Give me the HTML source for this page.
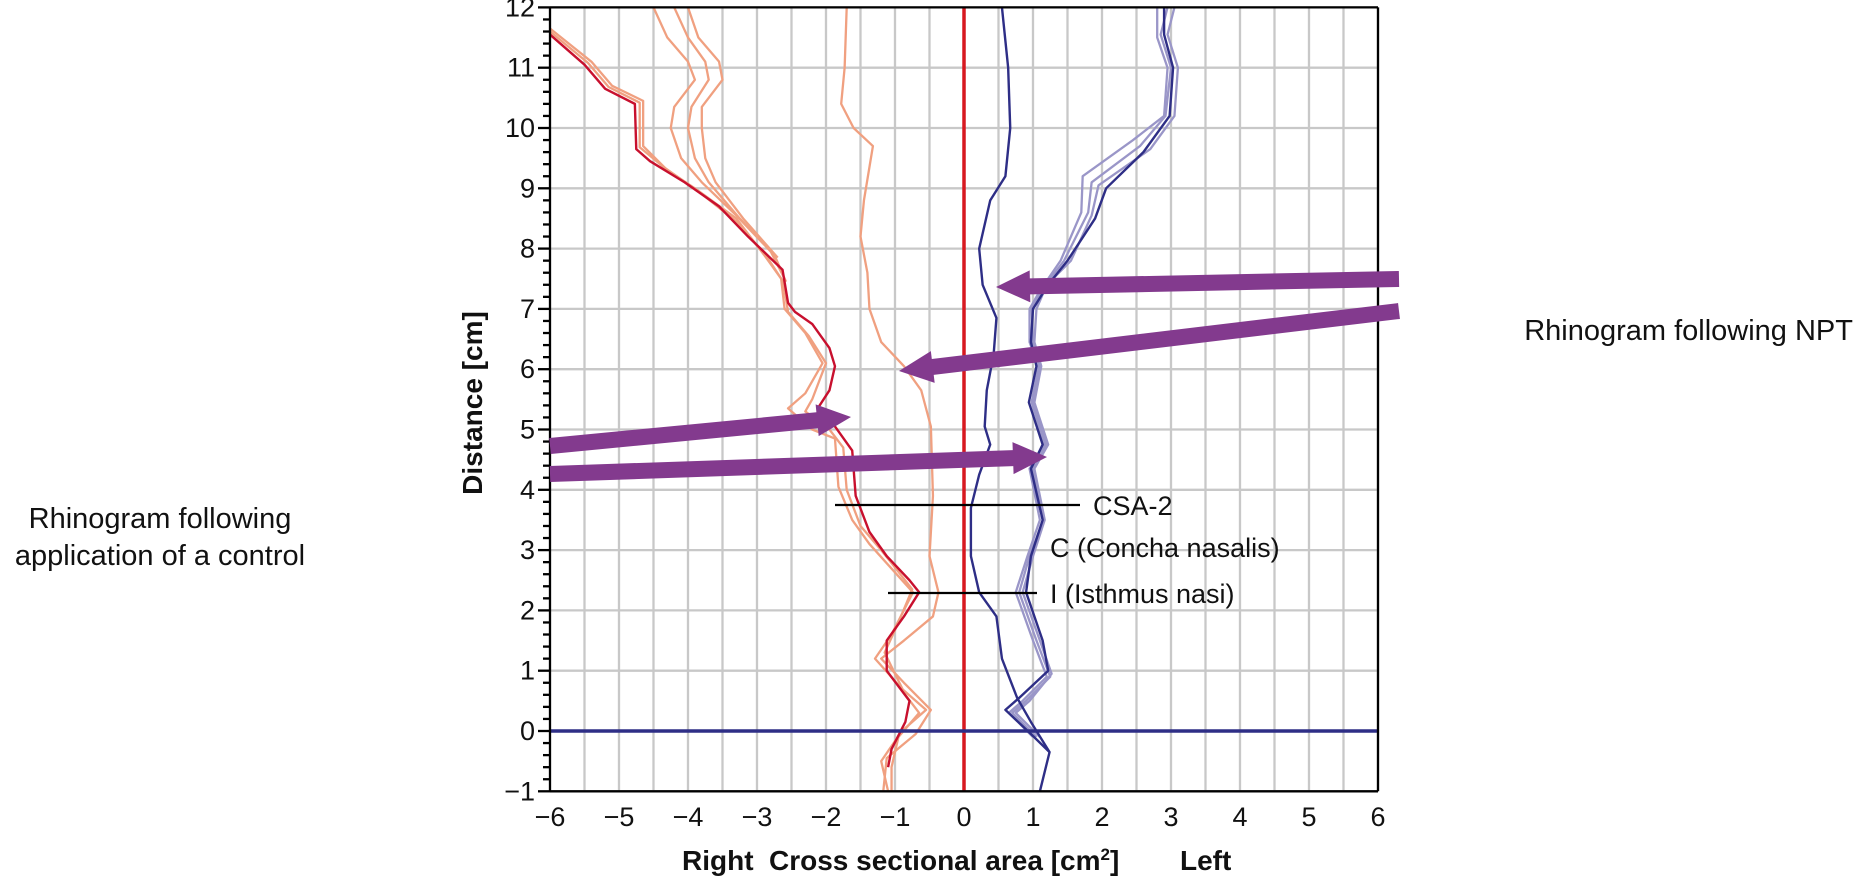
<!DOCTYPE html>
<html><head><meta charset="utf-8"><style>
html,body{margin:0;padding:0;background:#fff;}
body{width:1858px;height:878px;overflow:hidden;font-family:"Liberation Sans",sans-serif;}
</style></head><body>
<svg id="chart" width="1858" height="878" xmlns="http://www.w3.org/2000/svg" font-family="Liberation Sans, sans-serif"></svg>
<script>
const xTicks=[-6,-5,-4,-3,-2,-1,0,1,2,3,4,5,6];
const yTicks=[-1,0,1,2,3,4,5,6,7,8,9,10,11,12];
const dRed=[[-6,11.55],[-5.5,11.05],[-5.2,10.65],[-4.77,10.4],[-4.75,9.65],[-4.55,9.45],[-4.05,9.1],[-3.55,8.7],[-3.13,8.2],[-2.63,7.65],[-2.55,7.1],[-2.45,6.95],[-2.2,6.75],[-1.95,6.35],[-1.87,6.05],[-1.95,5.65],[-2.12,5.35],[-1.87,5.05],[-1.62,4.65],[-1.57,3.9],[-1.37,3.3],[-1.12,2.9],[-0.79,2.5],[-0.65,2.3],[-0.87,1.9],[-1.12,1.5],[-1.12,1.0],[-0.79,0.5],[-0.85,0.15],[-1.05,-0.3],[-1.1,-0.6]];
const salmonA=[[-6,11.65],[-5.4,11.1],[-5.1,10.7],[-4.65,10.45],[-4.65,9.7],[-4.3,9.3],[-3.9,9.0],[-3.3,8.5],[-2.9,7.9],[-2.65,7.5],[-2.6,7.0],[-2.3,6.6],[-2.05,6.1],[-2.3,5.6],[-2.55,5.35],[-2.2,5.0],[-1.87,4.85],[-1.82,4.05],[-1.62,3.5],[-1.37,3.1],[-0.74,2.3],[-1.05,1.6],[-1.29,1.2],[-0.9,0.7],[-0.55,0.35],[-0.9,0],[-1.2,-0.5],[-1.1,-1]];
const salmonB=[[-6,11.6],[-5.45,11.08],[-5.15,10.68],[-4.7,10.42],[-4.7,9.68],[-4.35,9.35],[-3.85,8.95],[-3.3,8.45],[-2.85,7.85],[-2.62,7.45],[-2.55,6.95],[-2.25,6.55],[-2.0,6.1],[-2.2,5.5],[-2.3,5.3],[-1.95,5.0],[-1.75,4.7],[-1.7,4.0],[-1.5,3.4],[-1.2,3.0],[-0.75,2.35],[-0.95,1.8],[-1.15,1.3],[-0.85,0.6],[-0.65,0.3],[-0.95,-0.1],[-1.05,-0.6],[-1.05,-1]];
const salmonC=[[-4.5,12],[-4.3,11.5],[-4.0,11.1],[-3.9,10.8],[-4.2,10.35],[-4.25,10.0],[-4.1,9.5],[-3.8,9.1],[-3.3,8.55],[-2.8,7.95],[-2.6,7.5]];
const salmonD=[[-4.2,12],[-4.0,11.5],[-3.75,11.1],[-3.7,10.8],[-3.95,10.35],[-4.0,10.0],[-3.9,9.5],[-3.7,9.1],[-3.25,8.5],[-2.75,7.9],[-2.58,7.45]];
const salmonE=[[-4.0,12],[-3.85,11.5],[-3.55,11.1],[-3.5,10.8],[-3.8,10.35],[-3.8,10.0],[-3.75,9.5],[-3.6,9.1],[-3.2,8.5],[-2.7,7.85]];
const salmonMid=[[-1.7,12],[-1.73,11],[-1.78,10.4],[-1.6,10],[-1.32,9.7],[-1.45,8.8],[-1.5,8.2],[-1.4,7.6],[-1.37,7.0],[-1.2,6.45],[-0.87,6.05],[-0.62,5.65],[-0.48,5.05],[-0.45,3.9],[-0.5,2.9],[-0.37,2.3],[-0.45,1.9],[-0.87,1.5],[-1.2,1.2],[-0.87,0.8],[-0.48,0.35],[-0.7,-0.05],[-1.12,-0.45],[-1.17,-1]];
const navyL=[[0.55,12],[0.64,11],[0.67,10],[0.6,9.2],[0.38,8.8],[0.22,8.0],[0.27,7.4],[0.47,6.85],[0.43,6.25],[0.33,5.65],[0.3,5.05],[0.38,4.75],[0.22,4.25],[0.1,3.7],[0.1,2.9],[0.22,2.3],[0.47,1.9],[0.55,1.2],[0.77,0.55],[0.97,0.15],[1.24,-0.35],[1.1,-1]];
const navyR=[[2.9,12],[2.9,11.55],[3.03,11],[2.98,10.2],[2.6,9.6],[2.06,9.0],[1.9,8.5],[1.5,7.8],[1.22,7.4],[1.0,7.0],[0.97,6.45],[1.05,6.05],[0.94,5.45],[1.14,4.75],[0.97,4.35],[1.14,3.5],[0.97,2.9],[0.9,2.3],[1.14,1.5],[1.22,1.0],[0.8,0.55],[0.6,0.35],[0.97,-0.05],[1.24,-0.35]];
const lavA=[[2.8,12],[2.8,11.5],[2.95,11],[2.9,10.2],[2.45,9.8],[1.72,9.2],[1.7,8.6],[1.4,7.8],[1.1,7.3],[0.95,7.0],[0.95,6.45],[1.08,6.05],[0.98,5.45],[1.17,4.75],[0.95,4.35],[1.1,3.5],[0.92,2.9],[0.75,2.3],[1.0,1.5],[1.2,0.9],[0.85,0.5],[0.65,0.3],[1.0,-0.1]];
const lavB=[[2.95,12],[2.85,11.55],[3.0,11],[2.92,10.2],[2.55,9.7],[1.85,9.1],[1.8,8.6],[1.45,7.8],[1.15,7.35],[0.98,7.0],[1.0,6.45],[1.1,6.05],[1.0,5.45],[1.2,4.75],[1.0,4.35],[1.15,3.5],[0.95,2.9],[0.8,2.3],[1.05,1.5],[1.25,0.9],[0.9,0.5],[0.7,0.3],[1.05,-0.1]];
const lavC=[[3.05,12],[2.95,11.55],[3.1,11],[3.05,10.2],[2.7,9.65],[1.95,9.05],[1.85,8.55],[1.55,7.8],[1.2,7.4],[1.05,7.0],[1.02,6.45],[1.12,6.05],[1.02,5.45],[1.22,4.75],[1.02,4.35],[1.17,3.5],[1.0,2.9],[0.85,2.3],[1.1,1.5],[1.27,0.95],[0.95,0.5],[0.75,0.3],[1.1,-0.1]];

const svg=document.getElementById('chart');
const NS='http://www.w3.org/2000/svg';
const sx=v=>964+v*69;
const sy=d=>731-d*60.3;
const X0=sx(-6),X1=sx(6);
function mk(tag,attrs,parent){const e=document.createElementNS(NS,tag);for(const k in attrs)e.setAttribute(k,attrs[k]);(parent||svg).appendChild(e);return e;}
const grid=mk('g',{});


for(let v=-5.5;v<=6.001;v+=0.5){mk('line',{x1:sx(v),x2:sx(v),y1:sy(12),y2:sy(-1),stroke:'#c8c8c8','stroke-width':2.3},grid);}
for(let d=-1;d<=12;d++){mk('line',{x1:X0,x2:X1,y1:sy(d),y2:sy(d),stroke:'#c8c8c8','stroke-width':2.3},grid);}
const line=(pts,color,w,name)=>{const p=mk('polyline',{points:pts.map(q=>sx(q[0])+','+sy(q[1])).join(' '),fill:'none',stroke:color,'stroke-width':w,'stroke-linejoin':'round'});return p;};
line(salmonA,'#f0a080',2.3,'control-right-trace-a');
line(salmonB,'#f0a080',2.3,'control-right-trace-b');
line(salmonC,'#f0a080',2.3,'control-right-trace-c');
line(salmonD,'#f0a080',2.3,'control-right-trace-d');
line(salmonE,'#f0a080',2.3,'control-right-trace-e');
line(salmonMid,'#f0a080',2.3,'npt-right-trace');
line(dRed,'#c8102e',2.4,'control-right-mean');
line(lavA,'#9a96c8',2.3,'npt-left-trace-a');
line(lavB,'#9a96c8',2.3,'npt-left-trace-b');
line(lavC,'#9a96c8',2.3,'npt-left-trace-c');
line(navyR,'#2e2e86',2.4,'control-left-mean');
line(navyL,'#2e2e86',2.4,'npt-left-mean');
let z=mk('line',{x1:sx(0),x2:sx(0),y1:sy(12),y2:sy(-1),stroke:'#d71920','stroke-width':3.5});

z=mk('line',{x1:X0,x2:X1,y1:sy(0),y2:sy(0),stroke:'#2e2e86','stroke-width':3.5});

// axes
mk('line',{x1:X0,x2:X0,y1:sy(12),y2:sy(-1),stroke:'#000','stroke-width':2.3});
mk('line',{x1:X0,x2:X1,y1:sy(-1),y2:sy(-1),stroke:'#000','stroke-width':2.3});
mk('line',{x1:X0,x2:X1,y1:sy(12),y2:sy(12),stroke:'#000','stroke-width':2.3});
mk('line',{x1:X1,x2:X1,y1:sy(12),y2:sy(-1),stroke:'#000','stroke-width':2.3});
for(let i=0;i<=65;i++){const d=-1+i*0.2;const maj=i%5===0;mk('line',{x1:X0-(maj?12:7),x2:X0,y1:sy(d),y2:sy(d),stroke:'#000','stroke-width':2.3});}
yTicks.forEach(d=>{const t=mk('text',{x:X0-15,y:sy(d)+9,'text-anchor':'end','font-size':27,fill:'#111'});t.textContent=(d<0?'\u2212'+(-d):d);});
xTicks.forEach(v=>{const t=mk('text',{x:sx(v),y:826,'text-anchor':'middle','font-size':27,fill:'#111'});t.textContent=(v<0?'\u2212'+(-v):v);});
// annotation lines
mk('line',{x1:835,x2:1080,y1:505,y2:505,stroke:'#000','stroke-width':2.3});
mk('line',{x1:888,x2:1037,y1:593,y2:593,stroke:'#000','stroke-width':2.3});
// arrows
function arrow(x1,y1,x2,y2,name){const a=Math.atan2(y2-y1,x2-x1),L=Math.hypot(x2-x1,y2-y1),h=34,hw=16,sw=8;
const c=Math.cos(a),s=Math.sin(a);const P=(u,v)=>(x1+u*c-v*s)+','+(y1+u*s+v*c);
const p=mk('polygon',{points:[P(0,-sw),P(L-h,-sw),P(L-h,-hw),P(L,0),P(L-h,hw),P(L-h,sw),P(0,sw)].join(' '),fill:'#833a8e'});
}
arrow(1399,279,996,287,'arrow-npt-left');
arrow(1399,311,899,371,'arrow-npt-right');
arrow(550,446,851,417,'arrow-control-right');
arrow(550,474,1047,457,'arrow-control-left');
function txt(x,y,s,o,name){const t=mk('text',Object.assign({x:x,y:y,'font-size':27,fill:'#111'},o||{}));t.textContent=s;return t;}
txt(1093,515,'CSA-2',{},'csa2-label');
txt(1050,557,'C (Concha nasalis)',{},'concha-label');
txt(1050,603,'I (Isthmus nasi)',{},'isthmus-label');
txt(1853,340,'Rhinogram following NPT',{'text-anchor':'end','font-size':29},'npt-annotation');
txt(160,528,'Rhinogram following',{'text-anchor':'middle','font-size':29},'control-annotation-line1');
txt(160,565,'application of a control',{'text-anchor':'middle','font-size':29},'control-annotation-line2');
const xt=mk('text',{x:682,y:870,'font-size':28,'font-weight':'bold',fill:'#111'});

xt.innerHTML='Right<tspan x="769">Cross sectional area [cm</tspan><tspan font-size="17" dy="-10">2</tspan><tspan dy="10">]</tspan><tspan x="1180">Left</tspan>';
txt(0,0,'Distance [cm]',{'font-weight':'bold','font-size':28,'text-anchor':'middle',transform:'translate(482,403) rotate(-90)'},'y-axis-title');
</script>
</body></html>
